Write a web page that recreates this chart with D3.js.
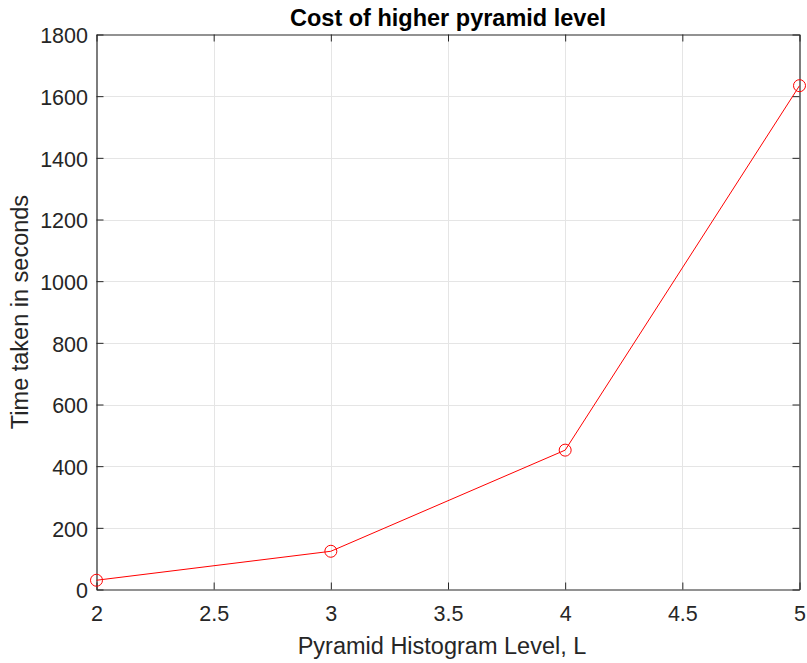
<!DOCTYPE html>
<html>
<head>
<meta charset="utf-8">
<script src="https://cdn.jsdelivr.net/npm/d3@7"></script>
<style>
  html, body { margin: 0; padding: 0; background: #fff; }
  svg { display: block; font-family: "Liberation Sans", Arial, Helvetica, sans-serif; }
</style>
</head>
<body>
<svg id="chart" width="807" height="663"></svg>
<script>
// Pyramid level vs. run time
const levels = [2, 3, 4, 5];
const seconds = [30, 124, 452, 1634];
const xTicks = [2, 2.5, 3, 3.5, 4, 4.5, 5];
const yTicks = [0, 200, 400, 600, 800, 1000, 1200, 1400, 1600, 1800];

const svg = d3.select("#chart");
const m = { left: 96.5, right: 799.5, top: 34.5, bottom: 589.5 };
const axisColor = "#262626";
const tickFont = 21.5;
const labelFont = 23.5;

const x = d3.scaleLinear().domain([2, 5]).range([m.left, m.right]);
const y = d3.scaleLinear().domain([0, 1800]).range([m.bottom, m.top]);

// grid
const grid = svg.append("g").attr("stroke", "#e5e5e5").attr("stroke-width", 1);
grid.selectAll(".gx").data(xTicks.slice(1, -1)).join("line")
  .attr("x1", d => Math.round(x(d)) + 0.5).attr("x2", d => Math.round(x(d)) + 0.5)
  .attr("y1", m.top).attr("y2", m.bottom);
grid.selectAll(".gy").data(yTicks.slice(1, -1)).join("line")
  .attr("y1", d => Math.round(y(d)) + 0.5).attr("y2", d => Math.round(y(d)) + 0.5)
  .attr("x1", m.left).attr("x2", m.right);

// axes with inward ticks
const tickLen = 7;
const fmt = d => String(d);
const bottomAxis = d3.axisBottom(x).tickValues(xTicks).tickSizeInner(-tickLen).tickSizeOuter(0).tickFormat(fmt);
const topAxis = d3.axisTop(x).tickValues(xTicks).tickSizeInner(-tickLen).tickSizeOuter(0).tickFormat("");
const leftAxis = d3.axisLeft(y).tickValues(yTicks).tickSizeInner(-tickLen).tickSizeOuter(0).tickFormat(fmt);
const rightAxis = d3.axisRight(y).tickValues(yTicks).tickSizeInner(-tickLen).tickSizeOuter(0).tickFormat("");

function styleAxis(g) {
  g.select(".domain").attr("stroke", axisColor).attr("stroke-width", 1.2);
  g.selectAll(".tick line").attr("stroke", axisColor).attr("stroke-width", 1);
  g.selectAll(".tick text").attr("fill", axisColor).attr("font-size", tickFont)
    .attr("font-family", "Liberation Sans, Arial, sans-serif");
}

svg.append("g").attr("transform", `translate(0,${m.bottom})`).call(bottomAxis).call(styleAxis)
  .selectAll(".tick text").attr("y", 621 - m.bottom).attr("dy", null);
svg.append("g").attr("transform", `translate(0,${m.top})`).call(topAxis).call(styleAxis);
svg.append("g").attr("transform", `translate(${m.left},0)`).call(leftAxis).call(styleAxis)
  .selectAll(".tick text").attr("x", 88 - m.left).attr("dy", "0.38em");
svg.append("g").attr("transform", `translate(${m.right},0)`).call(rightAxis).call(styleAxis);

// series
const pts = levels.map((l, i) => [l, seconds[i]]);
svg.append("path").datum(pts)
  .attr("fill", "none").attr("stroke", "#ff0000").attr("stroke-width", 1)
  .attr("d", d3.line().x(d => x(d[0])).y(d => y(d[1])));
svg.selectAll(".pt").data(pts).join("circle")
  .attr("cx", d => x(d[0])).attr("cy", d => y(d[1])).attr("r", 6)
  .attr("fill", "none").attr("stroke", "#ff0000").attr("stroke-width", 1);

// titles
svg.append("text").attr("x", (m.left + m.right) / 2).attr("y", 26)
  .attr("text-anchor", "middle").attr("font-size", labelFont).attr("font-weight", "bold")
  .attr("fill", "#000").text("Cost of higher pyramid level");
svg.append("text").attr("x", (m.left + m.right) / 2 - 6).attr("y", 654)
  .attr("text-anchor", "middle").attr("font-size", labelFont).attr("fill", axisColor)
  .text("Pyramid Histogram Level, L");
svg.append("text").attr("transform", `translate(28,${(m.top + m.bottom) / 2}) rotate(-90)`)
  .attr("text-anchor", "middle").attr("font-size", labelFont).attr("fill", axisColor)
  .text("Time taken in seconds");
</script>
</body>
</html>
